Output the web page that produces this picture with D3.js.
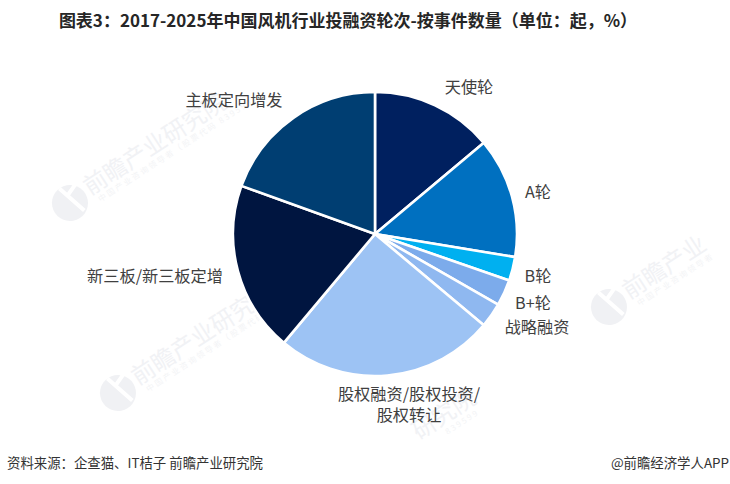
<!DOCTYPE html>
<html>
<head>
<meta charset="utf-8">
<script src="https://cdn.jsdelivr.net/npm/d3@7"></script>
<style>
  html, body { margin: 0; padding: 0; background: #fff; }
  text { font-family: "Noto Sans CJK SC", sans-serif; }
</style>
</head>
<body>
<script>
var svgWidth = 730;
var svgHeight = 484;

// values (share of events, %)
var rounds = ["天使轮", "A轮", "B轮", "B+轮", "战略融资", "股权融资/股权投资/股权转让", "新三板/新三板定增", "主板定向增发"];
var shares = [13.9, 13.7, 2.7, 3.0, 2.8, 25.0, 19.4, 19.5];
var colors = ["#00205f", "#0070c0", "#00b0f0", "#7cabeb", "#8fb8f0", "#9dc3f4", "#001540", "#003e72"];

// label text lines and where they sit on the page
var labelLines = [["天使轮"], ["A轮"], ["B轮"], ["B+轮"], ["战略融资"], ["股权融资/股权投资/", "股权转让"], ["新三板/新三板定增"], ["主板定向增发"]];
var labelSpots = [[469, 87], [538, 192], [538, 276], [533, 303], [537, 327], [409, 394], [155, 276], [234, 100]];

var title = "图表3：2017-2025年中国风机行业投融资轮次-按事件数量（单位：起，%）";
var source = "资料来源：企查猫、IT桔子  前瞻产业研究院";
var credit = "@前瞻经济学人APP";

// watermarks, the ones running off the page only carry their visible characters
var markSpots = [[70, 203], [609, 307], [118, 393], [313, 503]];
var markNames = ["前瞻产业研究院", "前瞻产业", "前瞻产业研究院", "研究院"];
var markSubs = ["中国产业咨询领导者（股票代码 839599）", "中国产业咨询领导者", "中国产业咨询领导者（股票代码 839599）", "839599"];
var markNameStart = [21, 21, 21, 123];
var markSubStart = [26, 26, 26, 150];

var svg = d3.select("body")
            .append("svg")
            .attr("width", svgWidth)
            .attr("height", svgHeight)
            .style("display", "block");

// faint watermark behind the chart
var markGroup = svg.selectAll("g.mark")
                   .data(markSpots)
                   .enter()
                   .append("g")
                   .classed("mark", true)
                   .attr("transform", d => `translate(${d[0]}, ${d[1]}) rotate(-33)`);

markGroup.append("circle")
         .attr("r", 18)
         .attr("fill", "#f0f1f4");

// white cut in the logo
markGroup.append("path")
         .attr("d", "M-1,-18L8,14M3,-8L18,-14")
         .attr("fill", "none")
         .attr("stroke", "#fff")
         .attr("stroke-width", 4);

markGroup.append("text")
         .attr("x", (d, i) => markNameStart[i])
         .attr("y", 5)
         .attr("font-size", 23.5)
         .attr("fill", "#f1f2f5")
         .text((d, i) => markNames[i]);

markGroup.append("text")
         .attr("x", (d, i) => markSubStart[i])
         .attr("y", 16)
         .attr("font-size", 8)
         .attr("letter-spacing", 2)
         .attr("fill", "#f3f4f6")
         .text((d, i) => markSubs[i]);

// pie
var pie = d3.pie().sort(null).value(d => d);
var arc = d3.arc().innerRadius(0).outerRadius(142);

var chartGroup = svg.append("g")
                    .attr("transform", "translate(375, 234)");

chartGroup.selectAll("path")
          .data(pie(shares))
          .enter()
          .append("path")
          .attr("d", arc)
          .attr("fill", (d, i) => colors[i])
          .attr("stroke", "#fff")
          .attr("stroke-width", 2.6)
          .attr("stroke-linejoin", "round")
          .append("title")
          .text((d, i) => rounds[i]);

// slice labels
var labels = svg.selectAll("text.label")
                .data(labelLines)
                .enter()
                .append("text")
                .classed("label", true)
                .attr("text-anchor", "middle")
                .attr("font-size", 16.2)
                .attr("fill", "#404040")
                .attr("transform", (d, i) => `translate(${labelSpots[i][0]}, ${labelSpots[i][1]})`);

labels.selectAll("tspan")
      .data(d => d)
      .enter()
      .append("tspan")
      .attr("x", 0)
      .attr("y", (d, i) => i * 20.5 + 6)
      .text(d => d);

svg.append("text")
   .attr("x", 348)
   .attr("y", 27)
   .attr("text-anchor", "middle")
   .attr("font-size", 17)
   .attr("font-weight", 700)
   .attr("fill", "#262626")
   .text(title);

svg.append("text")
   .attr("x", 7)
   .attr("y", 468)
   .attr("font-size", 13.4)
   .attr("fill", "#333")
   .text(source);

svg.append("text")
   .attr("x", 729)
   .attr("y", 468)
   .attr("text-anchor", "end")
   .attr("font-size", 13.4)
   .attr("fill", "#333")
   .text(credit);
</script>
</body>
</html>
